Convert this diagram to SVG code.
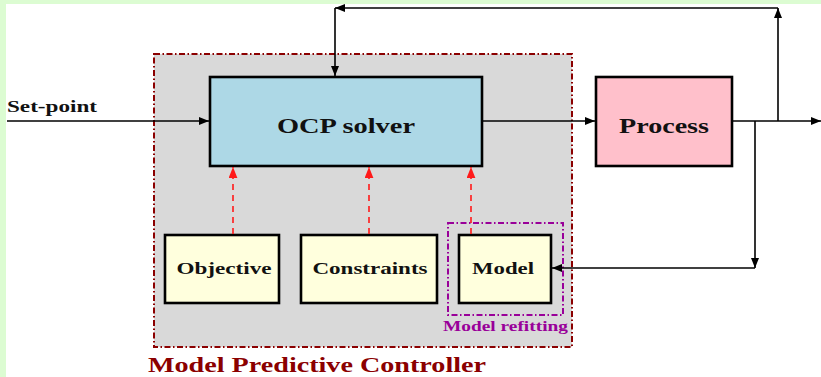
<svg xmlns="http://www.w3.org/2000/svg" width="821" height="377" viewBox="0 0 821 377">
  <defs>
    <marker id="arr" viewBox="0 0 10 8" refX="10" refY="4" markerWidth="10" markerHeight="8" markerUnits="userSpaceOnUse" orient="auto">
      <path d="M0,0 L10,4 L0,8 Z" fill="#000"/>
    </marker>
    <marker id="arrRed" viewBox="0 0 10 8" refX="10" refY="4" markerWidth="11" markerHeight="9" markerUnits="userSpaceOnUse" orient="auto">
      <path d="M0,0 L10,4 L0,8 Z" fill="#ff1a1a"/>
    </marker>
  </defs>
  <style>
    .box { stroke: #000; stroke-width: 2.6; }
    .lbl { font-family: "Liberation Serif", "DejaVu Serif", serif; font-weight: bold; fill: #111; text-anchor: middle; }
    .wire { fill: none; stroke: #000; stroke-width: 1.6; }
    .dep { fill: none; stroke: #ff1a1a; stroke-width: 1.6; stroke-dasharray: 6 5; }
  </style>

  <!-- page frame -->
  <rect x="0" y="0" width="821" height="377" fill="#dcfcd2"/>
  <rect x="6" y="4" width="815" height="373" fill="#fff"/>

  <!-- controller region -->
  <g id="mpc">
    <rect x="154" y="54" width="418" height="293" fill="#d9d9d9" stroke="#8b0000" stroke-width="2" stroke-dasharray="6 2.5 1.5 2.5"/>
    <text x="148" y="372" font-family="Liberation Serif, DejaVu Serif, serif" font-weight="bold" font-size="21" fill="#8b0000" textLength="338" lengthAdjust="spacingAndGlyphs">Model Predictive Controller</text>
  </g>

  <g id="refit">
    <rect x="448" y="223" width="115" height="92" fill="none" stroke="#990099" stroke-width="2" stroke-dasharray="6 2.5 1.5 2.5"/>
    <text x="443" y="331" font-family="Liberation Serif, DejaVu Serif, serif" font-weight="bold" font-size="14" fill="#990099" textLength="125" lengthAdjust="spacingAndGlyphs">Model refitting</text>
  </g>

  <g id="ocp">
    <rect class="box" x="210" y="77" width="272" height="89" fill="#add8e6"/>
    <text class="lbl" x="346" y="133" font-size="21" textLength="138" lengthAdjust="spacingAndGlyphs">OCP solver</text>
  </g>

  <g id="process">
    <rect class="box" x="596" y="77" width="136" height="89" fill="#ffc0cb"/>
    <text class="lbl" x="664" y="133" font-size="21" textLength="90" lengthAdjust="spacingAndGlyphs">Process</text>
  </g>

  <g id="objective">
    <rect class="box" x="165" y="235" width="114" height="68" fill="#ffffdd"/>
    <text class="lbl" x="224" y="274" font-size="16" textLength="95" lengthAdjust="spacingAndGlyphs">Objective</text>
  </g>

  <g id="constraints">
    <rect class="box" x="301" y="235" width="136" height="68" fill="#ffffdd"/>
    <text class="lbl" x="370" y="274" font-size="16" textLength="115" lengthAdjust="spacingAndGlyphs">Constraints</text>
  </g>

  <g id="model">
    <rect class="box" x="459" y="235" width="92" height="68" fill="#ffffdd"/>
    <text class="lbl" x="503" y="274" font-size="16" textLength="62" lengthAdjust="spacingAndGlyphs">Model</text>
  </g>

  <text x="7" y="112" font-family="Liberation Serif, DejaVu Serif, serif" font-weight="bold" font-size="16" fill="#111" textLength="90" lengthAdjust="spacingAndGlyphs">Set-point</text>

  <g id="connectors">
    <!-- signal path -->
    <path class="wire" d="M7,121 H209" marker-end="url(#arr)"/>
    <path class="wire" d="M483,121 H595" marker-end="url(#arr)"/>
    <path class="wire" d="M733,121 H821" marker-end="url(#arr)"/>
    <!-- output fed back to the solver -->
    <path class="wire" d="M778,121 V8" marker-end="url(#arr)"/>
    <path class="wire" d="M778,8 H335" marker-end="url(#arr)"/>
    <path class="wire" d="M335,8 V76" marker-end="url(#arr)"/>
    <!-- output fed back to the model -->
    <path class="wire" d="M755,121 V268" marker-end="url(#arr)"/>
    <path class="wire" d="M755,268 H552" marker-end="url(#arr)"/>
    <!-- solver inputs -->
    <path class="dep" d="M233,234 V167" marker-end="url(#arrRed)"/>
    <path class="dep" d="M369,234 V167" marker-end="url(#arrRed)"/>
    <path class="dep" d="M471,234 V167" marker-end="url(#arrRed)"/>
  </g>
</svg>
